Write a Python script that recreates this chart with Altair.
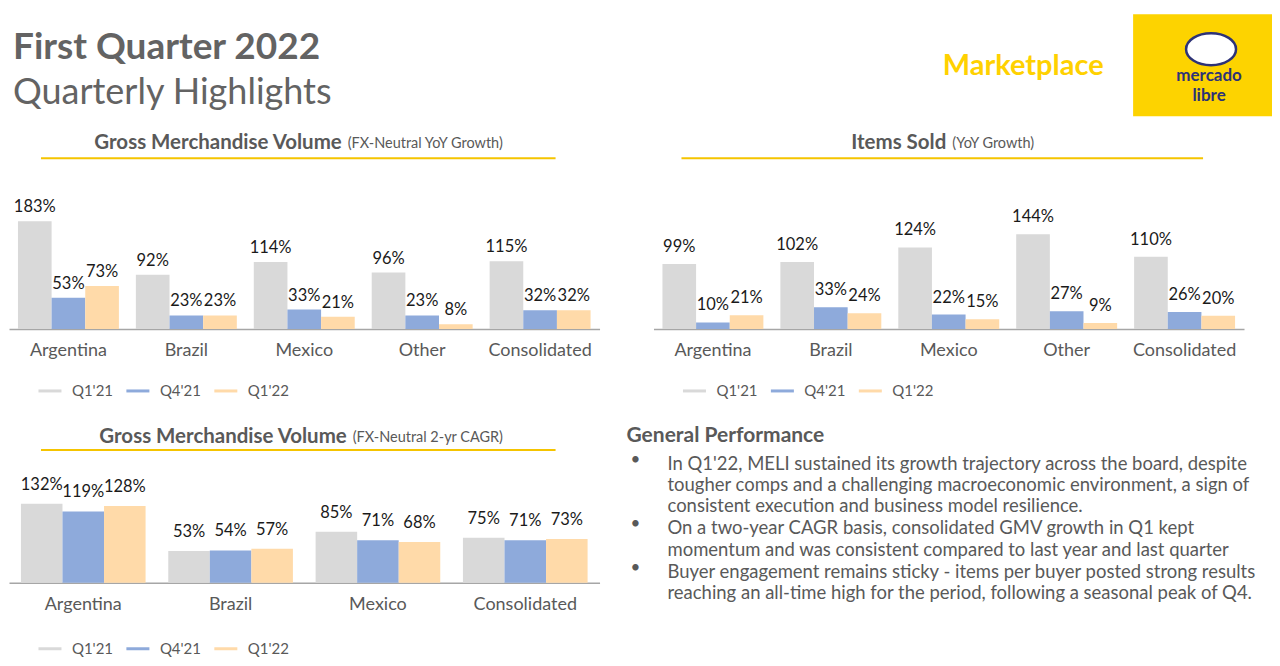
import altair as alt
import pandas as pd

FONT = "Lato"
GRAY_TXT = "#595959"

periods = ["Q1'21", "Q4'21", "Q1'22"]
period_colors = ["#D9D9D9", "#8EAADB", "#FFDAA9"]

gmv_categories = ["Argentina", "Brazil", "Mexico", "Other", "Consolidated"]
gmv_q121 = [183, 92, 114, 96, 115]
gmv_q421 = [53, 23, 33, 23, 32]
gmv_q122 = [73, 23, 21, 8, 32]

items_categories = ["Argentina", "Brazil", "Mexico", "Other", "Consolidated"]
items_q121 = [99, 102, 124, 144, 110]
items_q421 = [10, 33, 22, 27, 26]
items_q122 = [21, 24, 15, 9, 20]

cagr_categories = ["Argentina", "Brazil", "Mexico", "Consolidated"]
cagr_q121 = [132, 53, 85, 75]
cagr_q421 = [119, 54, 71, 71]
cagr_q122 = [128, 57, 68, 73]

header_title = ["First Quarter 2022"]
header_subtitle = ["Quarterly Highlights"]
header_section = ["Marketplace"]
logo_words = ["mercado", "libre"]

gmv_title = ["Gross Merchandise Volume", "(FX-Neutral YoY Growth)"]
items_title = ["Items Sold", "(YoY Growth)"]
cagr_title = ["Gross Merchandise Volume", "(FX-Neutral 2-yr CAGR)"]

perf_heading = ["General Performance"]
perf_lines = [
    "In Q1'22, MELI sustained its growth trajectory across the board, despite",
    "tougher comps and a challenging macroeconomic environment, a sign of",
    "consistent execution and business model resilience.",
    "On a two-year CAGR basis, consolidated GMV growth in Q1 kept",
    "momentum and was consistent compared to last year and last quarter",
    "Buyer engagement remains sticky - items per buyer posted strong results",
    "reaching an all-time high for the period, following a seasonal peak of Q4.",
]
bullet_line_index = [0, 3, 5]

one = pd.DataFrame({"k": [0]})


def long_df(cats, s1, s2, s3):
    rows = []
    for series, p in zip([s1, s2, s3], periods):
        for c, v in zip(cats, series):
            rows.append({"cat": c, "period": p, "value": v, "label": f"{v}%"})
    return pd.DataFrame(rows)


def text_at(txt, x, y, size, weight="normal", color=GRAY_TXT, align="left", font=FONT):
    return alt.Chart(pd.DataFrame({"t": [txt]})).mark_text(
        align=align, baseline="middle", fontSize=size, fontWeight=weight,
        color=color, font=font
    ).encode(x=alt.value(x), y=alt.value(y), text="t:N")


def bar_layers(cats, s1, s2, s3, ymax, pi, po, titles, bold_end, ul, dy, legend_y):
    df = long_df(cats, s1, s2, s3)
    base = alt.Chart(df)
    x = alt.X("cat:N", sort=cats, scale=alt.Scale(paddingInner=pi, paddingOuter=po),
              axis=alt.Axis(title=None, ticks=False, tickSize=0, domain=True,
                            domainColor="#A6A6A6", domainWidth=1.5, labelAngle=0,
                            labelFont=FONT, labelFontSize=18, labelColor=GRAY_TXT,
                            labelPadding=13))
    xo = alt.XOffset("period:N", sort=periods, scale=alt.Scale(paddingInner=0, paddingOuter=0))
    y = alt.Y("value:Q", scale=alt.Scale(domain=[0, ymax], nice=False, zero=True), axis=None)
    bars = base.mark_bar().encode(
        x=x, xOffset=xo, y=y,
        color=alt.Color("period:N", sort=periods,
                        scale=alt.Scale(domain=periods, range=period_colors),
                        legend=alt.Legend(orient="none", legendX=29, legendY=legend_y,
                                          direction="horizontal", title=None,
                                          symbolType="M -1 -0.13 H 1 V 0.13 H -1 Z",
                                          symbolSize=530, symbolStrokeWidth=0,
                                          labelFont=FONT, labelFontSize=15,
                                          labelColor=GRAY_TXT, labelOffset=10,
                                          columnPadding=12)),
    )
    labels = base.mark_text(baseline="bottom", dy=-dy, fontSize=16.5, color="#1A1A1A",
                            font=FONT).encode(x=x, xOffset=xo, y=y, text="label:N")
    t1 = text_at(titles[0], bold_end, 16, 20.5, "bold", align="right")
    t2 = text_at(titles[1], bold_end + 6, 17, 14.5, "normal", align="left")
    rule = alt.Chart(one).mark_rule(color="#F5C400", strokeWidth=2).encode(
        x=alt.value(ul[0]), x2=alt.value(ul[1]), y=alt.value(ul[2]))
    return [bars, labels, t1, t2, rule]


# panel A (with page header on the left)
layers_a = bar_layers(gmv_categories, gmv_q121, gmv_q421, gmv_q122, 343, 0.144, 0.076,
                      gmv_title, 333, (32, 547, 31), 6, 252)
top_edge = alt.Chart(one).mark_rule(color="#FFFFFF", strokeWidth=1).encode(
    x=alt.value(0), x2=alt.value(10), y=alt.value(-118))
layers_a += [
    top_edge,
    text_at(header_title[0], 4, -79, 37, "bold", color="#636363"),
    text_at(header_subtitle[0], 4, -34, 36, "normal", color="#636363"),
]
panel_a = alt.layer(*layers_a).properties(width=591, height=202)

# panel B (with section name and logo)
layers_b = bar_layers(items_categories, items_q121, items_q421, items_q122, 307, 0.144, 0.076,
                      items_title, 293, (28, 550, 31), 9, 252)
logo_rect = alt.Chart(one).mark_rect(color="#FDD300").encode(
    x=alt.value(480), x2=alt.value(619), y=alt.value(-113), y2=alt.value(-11))
logo_ellipse = alt.Chart(one).mark_point(
    shape="M -1 0 A 1 0.64 0 1 0 1 0 A 1 0.64 0 1 0 -1 0 Z",
    size=2500, filled=False, fill="#FFFFFF", fillOpacity=1,
    stroke="#2D3277", strokeWidth=2.5, opacity=1
).encode(x=alt.value(558), y=alt.value(-78))
layers_b += [
    text_at(header_section[0], 370, -61, 29, "bold", color="#FFD100", align="center"),
    logo_rect, logo_ellipse,
    text_at(logo_words[0], 556, -51, 17, "bold", color="#2D3277", align="center"),
    text_at(logo_words[1], 556, -31, 17, "bold", color="#2D3277", align="center"),
]
panel_b = alt.layer(*layers_b).properties(width=591, height=202)

# panel C
layers_c = bar_layers(cagr_categories, cagr_q121, cagr_q421, cagr_q122, 270, 0.154, 0.081,
                      cagr_title, 338, (32, 547, 29), 11, 216)
panel_c = alt.layer(*layers_c).properties(width=591, height=162)

# text panel
line_y = [43, 64, 85, 107, 129, 151, 172]
perf_layers = [text_at(perf_heading[0], -27, 15, 21, "bold")]
for i, ln in enumerate(perf_lines):
    perf_layers.append(text_at(ln, 14, line_y[i], 18.5))
for i in bullet_line_index:
    perf_layers.append(text_at("•", -23, line_y[i] - 4, 17))
panel_t = alt.layer(*perf_layers).properties(width=591, height=162)

chart = alt.concat(
    panel_a, panel_b, panel_c, panel_t,
    columns=2, spacing={"row": 92, "column": 54}, bounds="flush"
).resolve_scale(
    color="independent", x="independent", y="independent", xOffset="independent"
).properties(padding=0).configure(
    font=FONT
).configure_view(stroke="transparent", strokeWidth=0)

chart.save("out.html", embed_options={"renderer": "svg", "actions": False})
